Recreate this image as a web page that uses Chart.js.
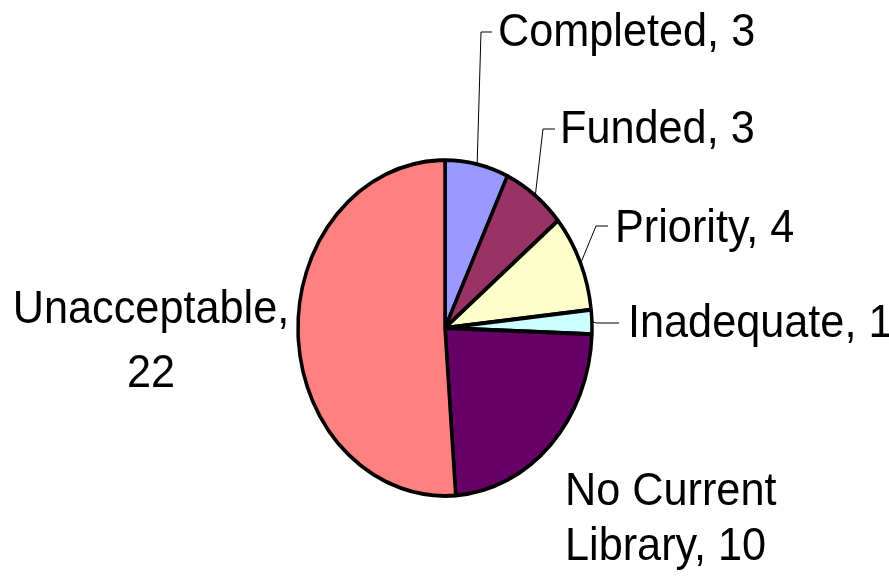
<!DOCTYPE html>
<html lang="en">
<head>
  <meta charset="UTF-8">
  <title>Library status</title>
  <script src="https://cdn.jsdelivr.net/npm/chart.js"></script>
  <style>
    body { margin: 0; background: #fff; }
    #wrap { width: 889px; height: 580px; }
  </style>
</head>
<body>
  <div id="wrap"><canvas id="pie"></canvas></div>

  <script>
    // data
    const categories = ['Completed', 'Funded', 'Priority', 'Inadequate', 'No Current Library', 'Unacceptable'];
    const counts = [3, 3, 4, 1, 10, 22];
    const sliceColors = ['#9999FF', '#993366', '#FFFFCC', '#CCFFFF', '#660066', '#FF8080'];

    // label layout (text lines, baseline positions, leader elbow)
    const labelLayout = [
      { lines: ['Completed, 3'], x: 498, y: [46], align: 'left', elbow: [481, 32], end: 492 },
      { lines: ['Funded, 3'], x: 560, y: [143], align: 'left', elbow: [543, 129], end: 555 },
      { lines: ['Priority, 4'], x: 615, y: [242], align: 'left', elbow: [596, 226], end: 608 },
      { lines: ['Inadequate, 1'], x: 628, y: [337], align: 'left', elbow: [596, 323], end: 619 },
      { lines: ['No Current', 'Library, 10'], x: 565, y: [505, 560], align: 'left', elbow: null },
      { lines: ['Unacceptable,', '22'], x: 151, y: [323, 387], align: 'center', elbow: null }
    ];

    const stretchY = 1.142; // pie is taller than wide
    const textSqueeze = 0.92;

    const ellipsePie = {
      id: 'ellipsePie',
      beforeDatasetsDraw(chart) {
        const arc = chart.getDatasetMeta(0).data[0];
        const ctx = chart.ctx;
        ctx.save();
        ctx.translate(arc.x, arc.y);
        ctx.scale(1, stretchY);
        ctx.translate(-arc.x, -arc.y);
      },
      afterDatasetsDraw(chart) {
        chart.ctx.restore();
      }
    };

    const pieLabels = {
      id: 'pieLabels',
      afterDraw(chart) {
        const ctx = chart.ctx;
        const arcs = chart.getDatasetMeta(0).data;
        ctx.save();
        ctx.fillStyle = '#000';
        ctx.strokeStyle = '#000';
        ctx.lineWidth = 1;
        ctx.font = '47px "Liberation Sans", Arial, sans-serif';
        ctx.textBaseline = 'alphabetic';
        labelLayout.forEach((lab, i) => {
          const arc = arcs[i];
          if (lab.elbow) {
            const mid = (arc.startAngle + arc.endAngle) / 2;
            const r = arc.outerRadius + 1;
            const sx = arc.x + Math.cos(mid) * r;
            const sy = arc.y + Math.sin(mid) * r * stretchY;
            ctx.beginPath();
            ctx.moveTo(sx, sy);
            ctx.lineTo(lab.elbow[0], lab.elbow[1]);
            ctx.lineTo(lab.end, lab.elbow[1]);
            ctx.stroke();
          }
          ctx.textAlign = lab.align;
          lab.lines.forEach((t, j) => {
            ctx.save();
            ctx.translate(lab.x, lab.y[j]);
            ctx.scale(textSqueeze, 1);
            ctx.fillText(t, 0, 0);
            ctx.restore();
          });
        });
        ctx.restore();
      }
    };

    new Chart(document.getElementById('pie'), {
      type: 'pie',
      data: {
        labels: categories,
        datasets: [{
          data: counts,
          backgroundColor: sliceColors,
          borderColor: '#000',
          borderWidth: 3.5,
          radius: 147,
          clip: false
        }]
      },
      options: {
        responsive: true,
        maintainAspectRatio: false,
        animation: false,
        layout: { padding: { left: 245, right: 244, top: 128, bottom: 52 } },
        plugins: {
          legend: { display: false },
          tooltip: { enabled: false }
        }
      },
      plugins: [ellipsePie, pieLabels]
    });
  </script>
</body>
</html>
